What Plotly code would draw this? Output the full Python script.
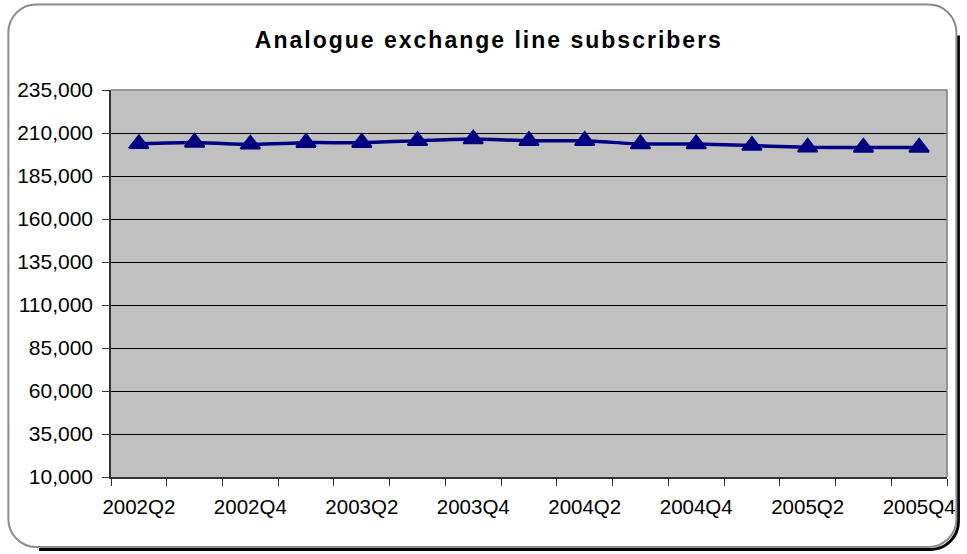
import plotly.graph_objects as go

# Quarterly analogue exchange line subscriber counts
quarters = ["2002Q2", "2002Q3", "2002Q4", "2003Q1", "2003Q2", "2003Q3", "2003Q4",
            "2004Q1", "2004Q2", "2004Q3", "2004Q4", "2005Q1", "2005Q2", "2005Q3", "2005Q4"]
subscribers = [203700, 204500, 203400, 204400, 204400, 205500, 206500,
               205500, 205500, 203600, 203600, 202700, 201700, 201600, 201600]
y_ticks = [10000, 35000, 60000, 85000, 110000, 135000, 160000, 185000, 210000, 235000]

W, H = 967, 554
ML, MR, MT, MB = 111, 13, 90, 77
PW, PH = W - ML - MR, H - MT - MB


def to_paper(x, y):
    return (x - ML) / PW, (H - MB - y) / PH


def path_from_px(cmds):
    parts = []
    for cmd, *pts in cmds:
        coords = []
        for (x, y) in pts:
            px, py = to_paper(x, y)
            coords.append(f"{px:.5f},{py:.5f}")
        parts.append(cmd + " ".join(coords))
    return " ".join(parts)


def rounded_rect(x0, y0, x1, y1, r):
    k = 0.5523 * r
    return path_from_px([
        ("M", (x0 + r, y0)), ("L", (x1 - r, y0)),
        ("C", (x1 - r + k, y0), (x1, y0 + r - k), (x1, y0 + r)),
        ("L", (x1, y1 - r)),
        ("C", (x1, y1 - r + k), (x1 - r + k, y1), (x1 - r, y1)),
        ("L", (x0 + r, y1)),
        ("C", (x0 + r - k, y1), (x0, y1 - r + k), (x0, y1 - r)),
        ("L", (x0, y0 + r)),
        ("C", (x0, y0 + r - k), (x0 + r - k, y0), (x0 + r, y0)),
    ]) + " Z"


def shadow_edge(x0, y0, x1, y1, r):
    k = 0.5523 * r
    return path_from_px([
        ("M", (x1, y0 + r)),
        ("L", (x1, y1 - r)),
        ("C", (x1, y1 - r + k), (x1 - r + k, y1), (x1 - r, y1)),
        ("L", (x0 + r, y1)),
    ])


idx = list(range(len(quarters)))

fig = go.Figure(go.Scatter(
    x=idx, y=subscribers, mode="lines+markers",
    line=dict(color="#000080", width=3.5, shape="spline", smoothing=0.6),
    marker=dict(symbol="triangle-up", size=17, color="#000080",
                line=dict(color="#000080", width=2)),
    hoverinfo="skip", showlegend=False,
))

font = "Liberation Sans, Arial, sans-serif"

fig.update_layout(
    width=W, height=H,
    margin=dict(l=ML, r=MR, t=MT, b=MB),
    paper_bgcolor="white", plot_bgcolor="#C0C0C0",
    title=dict(text="<b>Analogue exchange line subscribers</b>",
               xref="paper", x=(492 - ML) / PW, xanchor="center",
               y=1 - 40 / H, yanchor="middle",
               font=dict(family=font, size=23, color="black")),
    xaxis=dict(
        range=[-0.5, len(quarters) - 0.5],
        tickmode="array", tickvals=idx[::2], ticktext=quarters[::2],
        ticks="outside", ticklen=11, tickcolor="rgba(0,0,0,0)",
        minor=dict(tickmode="linear", tick0=-0.5, dtick=1, ticks="outside",
                   ticklen=7, tickcolor="#333", tickwidth=1, showgrid=False),
        showgrid=False, zeroline=False,
        showline=True, linecolor="#333", linewidth=1.5,
        tickfont=dict(family=font, size=20.5, color="black"),
    ),
    yaxis=dict(
        range=[y_ticks[0], y_ticks[-1]],
        tickmode="array", tickvals=y_ticks, tickformat=",",
        ticks="outside", ticklen=7, tickcolor="#333", ticklabelstandoff=5,
        showgrid=True, gridcolor="black", gridwidth=1, zeroline=False,
        showline=True, linecolor="#333", linewidth=1.5,
        tickfont=dict(family=font, size=21, color="black"),
    ),
    shapes=[
        # plot-area frame on top and right edges
        dict(type="path", xref="paper", yref="paper", layer="above",
             path=path_from_px([("M", (ML, MT)), ("L", (ML + PW, MT)), ("L", (ML + PW, MT + PH))]),
             line=dict(color="#808080", width=1.5)),
        # drop shadow of the chart frame
        dict(type="path", xref="paper", yref="paper", layer="above",
             path=shadow_edge(10.5, 7.5, 965.5, 549.5, 28),
             line=dict(color="black", width=3)),
        # rounded chart frame
        dict(type="path", xref="paper", yref="paper", layer="above",
             path=rounded_rect(7.5, 4.5, 963.5, 547, 28),
             line=dict(color="#8C8C8C", width=2)),
    ],
)

# widen the title's letter spacing like the original chart styling
post = ("document.querySelectorAll('.gtitle').forEach(function(t){"
        "t.style.letterSpacing='2px';});")

fig.write_html("out.html", config=dict(displayModeBar=False), post_script=post)
